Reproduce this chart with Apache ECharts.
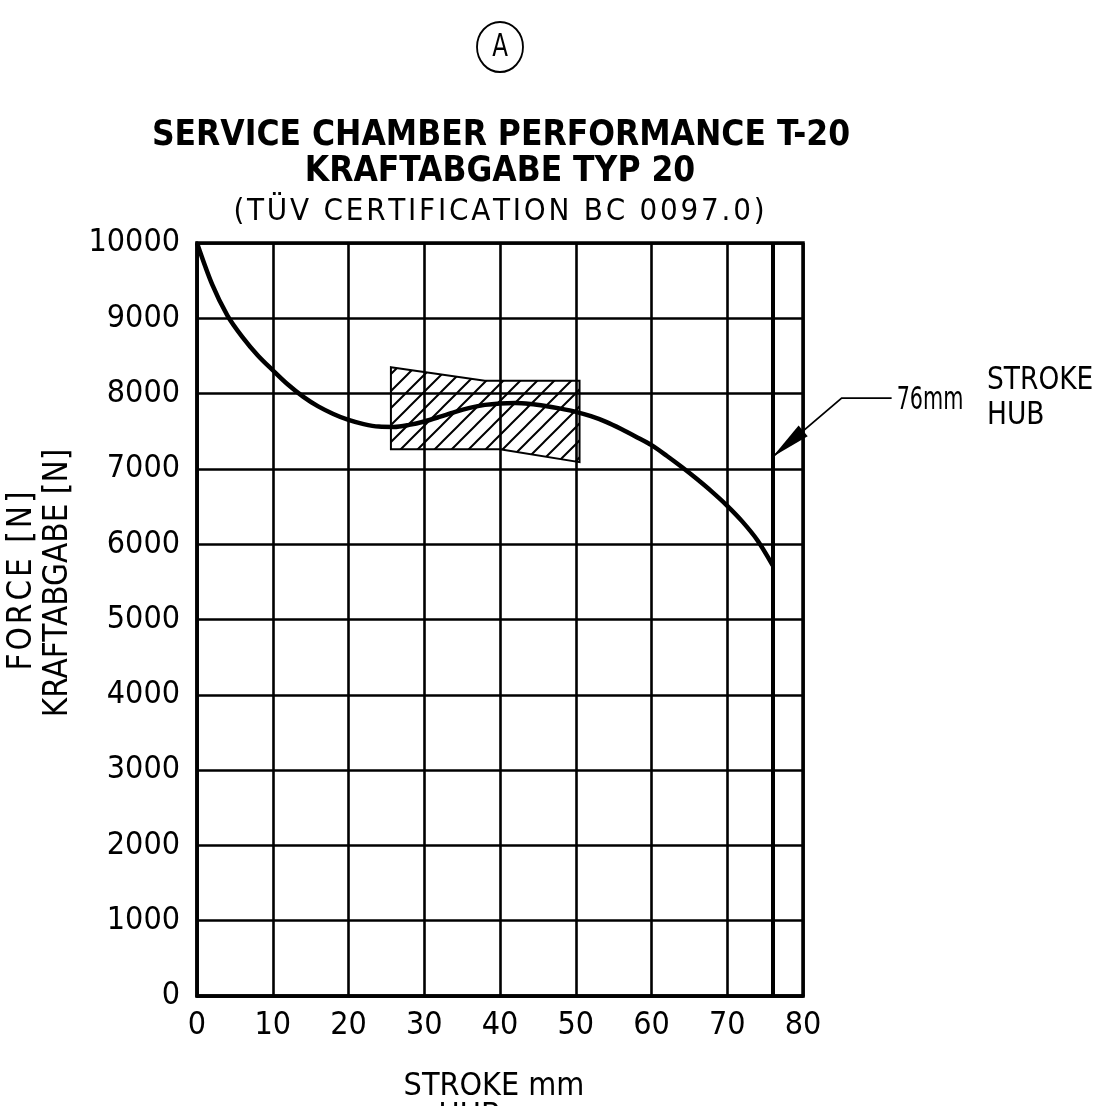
<!DOCTYPE html>
<html>
<head>
<meta charset="utf-8">
<title>Service Chamber Performance T-20</title>
<script src="https://cdn.jsdelivr.net/npm/echarts@6/dist/echarts.min.js"></script>
<style>
  html, body { margin: 0; padding: 0; background: #fff; }
  #main { width: 1111px; height: 1106px; }
</style>
</head>
<body>
<div id="main"></div>
<script>
// 行程 / 力 曲线
var strokeMm = [0, 2, 4, 6, 8, 10, 12, 14, 16, 18, 20, 22, 24, 26, 28, 30, 32, 34, 36, 38,
                40, 42, 44, 46, 48, 50, 52, 54, 56, 58, 60, 62, 64, 66, 68, 70, 72, 74, 76];
var forceN = [10000, 9450, 9040, 8750, 8510, 8310, 8120, 7960, 7830, 7730, 7650, 7595, 7562, 7558, 7585, 7630, 7690, 7755, 7810, 7850,
              7870, 7875, 7862, 7835, 7800, 7758, 7700, 7625, 7530, 7425, 7315, 7175, 7025, 6865, 6695, 6510, 6300, 6050, 5720];

// 阴影区 (公差带)
var hatchStroke = [25.6, 38, 50.5, 50.5, 40, 25.6];
var hatchForce = [8350, 8170, 8170, 7090, 7260, 7260];

// 最大行程
var maxStroke = 76;
// 标注线: 箭头尖, 拐点, 文字端
var leaderStroke = [76, 85.1, 91.7];
var leaderForce = [7160, 7940, 7940];

var xTicks = [0, 10, 20, 30, 40, 50, 60, 70, 80];
var yTicks = [0, 1000, 2000, 3000, 4000, 5000, 6000, 7000, 8000, 9000, 10000];

var fontThin = '"DejaVu Sans Condensed", "Liberation Sans Narrow", sans-serif';

// 字间距 (细空格)
function spaced(s) {
    return s.split('').join('\u200A');
}

// 斜线填充图案
function hatchPattern() {
    var s = 17;
    var c = document.createElement('canvas');
    c.width = s; c.height = s;
    var ctx = c.getContext('2d');
    ctx.strokeStyle = '#000';
    ctx.lineWidth = 2;
    ctx.beginPath();
    ctx.moveTo(-2, s + 2); ctx.lineTo(s + 2, -2);
    ctx.moveTo(-2, 2); ctx.lineTo(2, -2);
    ctx.moveTo(s - 2, s + 2); ctx.lineTo(s + 2, s - 2);
    ctx.stroke();
    return c;
}
var pattern = hatchPattern();

var myChart = echarts.init(document.getElementById('main'));

var curveData = strokeMm.map(function (x, i) { return [x, forceN[i]]; });
var hatchData = hatchStroke.map(function (x, i) { return [x, hatchForce[i]]; });

myChart.setOption({
    animation: false,
    backgroundColor: '#fff',
    grid: {
        left: 197, right: 308, top: 243, bottom: 110,
        show: true, borderColor: '#000', borderWidth: 3.5
    },
    xAxis: {
        type: 'value', min: 0, max: 80, interval: 10,
        axisLine: { show: true, lineStyle: { color: '#000', width: 3.5 } },
        axisTick: { show: false },
        splitLine: { show: true, lineStyle: { color: '#000', width: 2.6 } },
        axisLabel: {
            margin: 14, color: '#000', fontSize: 32, fontFamily: fontThin,
            formatter: function (v) { return xTicks.indexOf(v) >= 0 ? String(v) : ''; }
        }
    },
    yAxis: {
        type: 'value', min: 0, max: 10000, interval: 1000,
        axisLine: { show: true, lineStyle: { color: '#000', width: 3.5 } },
        axisTick: { show: false },
        splitLine: { show: true, lineStyle: { color: '#000', width: 2.6 } },
        axisLabel: {
            margin: 17, color: '#000', fontSize: 32, fontFamily: fontThin,
            formatter: function (v) { return yTicks.indexOf(v) >= 0 ? String(v) : ''; }
        }
    },
    series: [
        {
            type: 'custom',
            name: 'hatch',
            z: 3,
            renderItem: function (params, api) {
                if (params.dataIndex !== 0) return;
                var pts = hatchData.map(function (p) { return api.coord(p); });
                return {
                    type: 'polygon',
                    shape: { points: pts },
                    style: { fill: { image: pattern, repeat: 'repeat' }, stroke: '#000', lineWidth: 2 }
                };
            },
            data: hatchData
        },
        {
            type: 'line',
            name: 'force',
            z: 4,
            smooth: 0.3,
            symbol: 'none',
            lineStyle: { color: '#000', width: 4.5 },
            data: curveData,
            markLine: {
                silent: true,
                symbol: 'none',
                label: { show: false },
                lineStyle: { color: '#000', width: 4, type: 'solid' },
                data: [{ xAxis: maxStroke }]
            }
        }
    ]
});

// 标注与文字
function drawGraphics() {
    var p = leaderStroke.map(function (x, i) {
        return myChart.convertToPixel({ gridIndex: 0 }, [x, leaderForce[i]]);
    });
    var tip = p[0], elbow = p[1], end = p[2];
    var dx = elbow[0] - tip[0], dy = elbow[1] - tip[1];
    var len = Math.sqrt(dx * dx + dy * dy);
    var ux = dx / len, uy = dy / len;
    var headLen = 40, headW = 7;
    var bx = tip[0] + ux * headLen, by = tip[1] + uy * headLen;
    var head = [
        tip,
        [bx - uy * headW, by + ux * headW],
        [bx + uy * headW, by - ux * headW]
    ];
    var textX = end[0] + 5;

    function txt(x, y, s, font, opt) {
        var o = { type: 'text', x: x, y: y,
            style: { text: s, font: font, fill: '#000', textAlign: 'center', textVerticalAlign: 'middle' } };
        if (opt) { for (var k in opt) { if (k === 'textAlign') o.style.textAlign = opt[k]; else o[k] = opt[k]; } }
        return o;
    }

    myChart.setOption({
        graphic: [
            // 圆圈 A
            { type: 'circle', shape: { cx: 0, cy: 0, r: 25 }, x: 500, y: 47, scaleX: 0.92,
              style: { fill: 'none', stroke: '#000', lineWidth: 2 } },
            txt(500, 48, 'A', '32px ' + fontThin, { scaleX: 0.8 }),
            // 标题
            txt(501, 136, 'SERVICE CHAMBER PERFORMANCE T-20', 'bold 35px ' + fontThin),
            txt(500, 172, 'KRAFTABGABE TYP 20', 'bold 35px ' + fontThin),
            txt(499, 212, spaced('(TÜV CERTIFICATION BC 0097.0)'), '31px ' + fontThin),
            // Y 轴名称
            txt(22, 581, spaced('FORCE [N]'), '33px ' + fontThin, { rotation: Math.PI / 2 }),
            txt(58, 583, 'KRAFTABGABE [N]', '33px ' + fontThin, { rotation: Math.PI / 2 }),
            // X 轴名称
            txt(494, 1087, 'STROKE mm', '32px ' + fontThin),
            txt(502, 1117, 'HUB mm', '32px ' + fontThin),
            // 76mm 标注
            { type: 'polyline', shape: { points: [end, elbow, tip] },
              style: { stroke: '#000', lineWidth: 1.8, fill: 'none' } },
            { type: 'polygon', shape: { points: head }, style: { fill: '#000' } },
            txt(textX, 401, '76mm', '32px ' + fontThin, { textAlign: 'left', scaleX: 0.72 }),
            txt(987, 381, 'STROKE', '32px ' + fontThin, { textAlign: 'left', scaleX: 0.92 }),
            txt(987, 416, 'HUB', '32px ' + fontThin, { textAlign: 'left', scaleX: 0.92 })
        ]
    });
}
drawGraphics();
</script>
</body>
</html>
